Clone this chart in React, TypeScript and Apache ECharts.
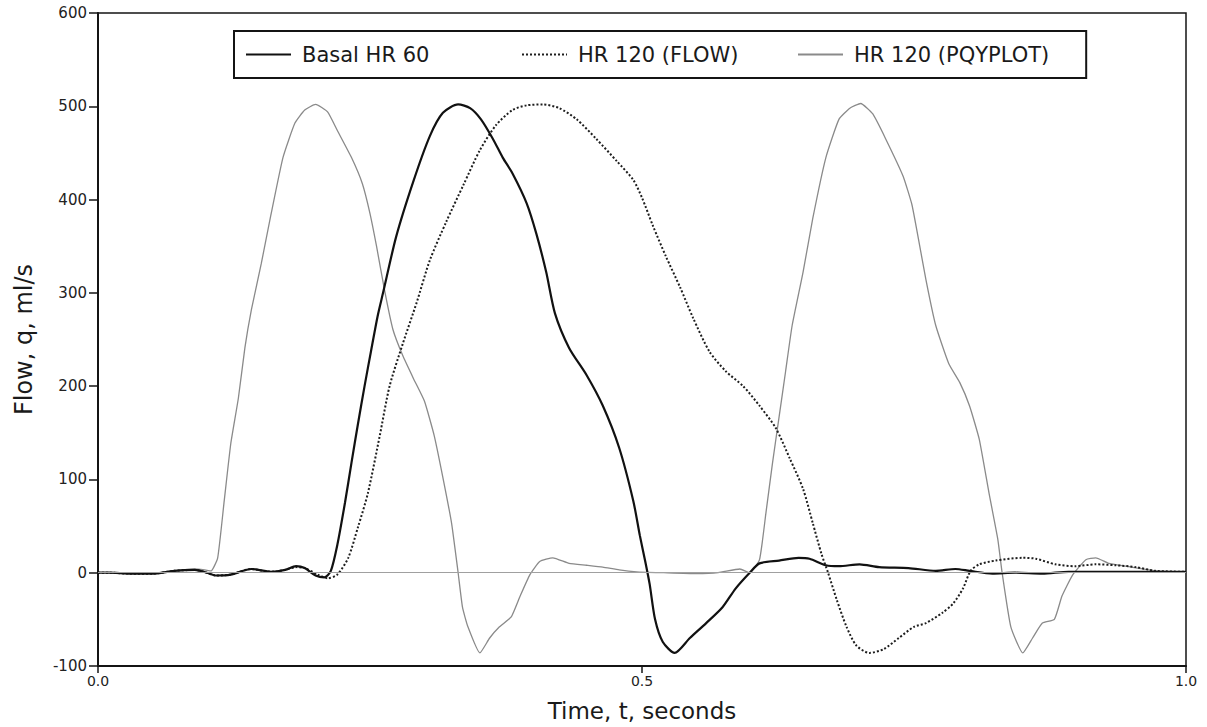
import React, { useEffect, useRef } from "react";
import * as echarts from "echarts";

// Aortic flow waveforms: time (s) vs flow (ml/s)
const seriesNames = ["Basal HR 60", "HR 120 (FLOW)", "HR 120 (PQYPLOT)"];

const basalHr60: [number, number][] = [
  [0.0, 0], [0.01, 0], [0.03, -1], [0.05, -1], [0.07, 2], [0.089, 3], [0.1, 0],
  [0.108, -3], [0.122, -2], [0.141, 4], [0.159, 1], [0.172, 3], [0.182, 7],
  [0.19, 5], [0.2, -3], [0.208, -5], [0.214, 2], [0.22, 30], [0.227, 75],
  [0.233, 118], [0.239, 160], [0.245, 200], [0.251, 238], [0.257, 275],
  [0.262, 300], [0.274, 360], [0.29, 420], [0.305, 468], [0.317, 493],
  [0.331, 502], [0.342, 498], [0.352, 486], [0.363, 465], [0.372, 445],
  [0.381, 428], [0.394, 396], [0.403, 363], [0.412, 322], [0.42, 278],
  [0.433, 241], [0.449, 212], [0.464, 179], [0.479, 134], [0.492, 77],
  [0.498, 40], [0.503, 12], [0.507, -12], [0.512, -50], [0.519, -74],
  [0.53, -86], [0.544, -70], [0.559, -54], [0.574, -37], [0.586, -17],
  [0.599, 0], [0.608, 10], [0.626, 13], [0.644, 16], [0.654, 15], [0.669, 8],
  [0.681, 7], [0.7, 9], [0.718, 6], [0.745, 5], [0.77, 2], [0.788, 4],
  [0.801, 2], [0.822, -1], [0.843, 0], [0.868, -1], [0.892, 1], [0.917, 1],
  [0.945, 1], [0.975, 1], [1.0, 1],
];

const hr120Flow: [number, number][] = [
  [0.0, 0], [0.01, 0], [0.03, -1], [0.05, -1], [0.07, 2], [0.089, 3], [0.1, 0],
  [0.108, -3], [0.122, -2], [0.141, 4], [0.159, 1], [0.172, 3], [0.182, 6],
  [0.19, 5], [0.202, -2], [0.211, -6], [0.22, -2], [0.23, 16], [0.239, 49],
  [0.248, 85], [0.259, 147], [0.268, 200], [0.28, 245], [0.293, 290],
  [0.305, 335], [0.32, 376], [0.336, 416], [0.351, 453], [0.366, 480],
  [0.381, 496], [0.394, 501], [0.409, 502], [0.424, 498], [0.44, 486],
  [0.458, 465], [0.477, 441], [0.492, 421], [0.5, 402], [0.51, 372],
  [0.522, 339], [0.535, 306], [0.547, 273], [0.562, 237], [0.577, 216],
  [0.593, 200], [0.608, 179], [0.623, 155], [0.636, 122], [0.648, 90],
  [0.657, 53], [0.665, 20], [0.671, 0], [0.679, -29], [0.688, -58],
  [0.697, -78], [0.709, -86], [0.722, -82], [0.736, -70], [0.75, -58],
  [0.761, -54], [0.776, -43], [0.786, -33], [0.795, -17], [0.802, 2],
  [0.81, 9], [0.825, 13], [0.85, 16], [0.862, 15], [0.88, 9], [0.898, 7],
  [0.917, 9], [0.935, 8], [0.954, 6], [0.972, 2], [1.0, 1],
];

const hr120Pqyplot: [number, number][] = [
  [0.0, 0], [0.01, 0], [0.03, -1], [0.05, -1], [0.07, 2], [0.089, 4],
  [0.098, 3], [0.104, 2], [0.11, 16], [0.116, 77], [0.122, 138], [0.129, 187],
  [0.135, 241], [0.141, 282], [0.15, 331], [0.159, 384], [0.17, 445],
  [0.181, 482], [0.19, 496], [0.2, 502], [0.211, 494], [0.22, 474],
  [0.233, 445], [0.243, 417], [0.25, 385], [0.256, 350], [0.2635, 302],
  [0.271, 261], [0.28, 233], [0.29, 208], [0.3, 184], [0.309, 147],
  [0.317, 102], [0.325, 53], [0.331, 0], [0.335, -37], [0.34, -58],
  [0.351, -86], [0.36, -70], [0.369, -58], [0.38, -47], [0.388, -25],
  [0.397, -2], [0.406, 12], [0.418, 16], [0.433, 10], [0.449, 8], [0.464, 6],
  [0.479, 3], [0.495, 1], [0.52, 0], [0.55, -1], [0.57, 0], [0.59, 4],
  [0.599, 0], [0.608, 14], [0.614, 65], [0.62, 118], [0.626, 167],
  [0.632, 216], [0.638, 265], [0.648, 322], [0.657, 380], [0.669, 445],
  [0.681, 486], [0.691, 498], [0.701, 503], [0.712, 492], [0.724, 465],
  [0.74, 425], [0.748, 395], [0.752, 371], [0.761, 314], [0.77, 265],
  [0.782, 224], [0.792, 204], [0.801, 179], [0.81, 143], [0.819, 85],
  [0.827, 36], [0.831, 0], [0.839, -58], [0.85, -86], [0.859, -70],
  [0.868, -54], [0.879, -50], [0.886, -25], [0.896, -2], [0.908, 14],
  [0.917, 16], [0.929, 10], [0.945, 7], [0.96, 4], [0.972, 2], [1.0, 1],
];

const FONT = "DejaVu Sans";
const INK = "#141414";

export default function App() {
  const ref = useRef<HTMLDivElement | null>(null);

  useEffect(() => {
    if (!ref.current) return;
    const chart = echarts.init(ref.current, undefined, { renderer: "svg" });

    chart.setOption({
      animation: false,
      backgroundColor: "#ffffff",
      grid: {
        left: 98,
        right: 21,
        top: 13,
        bottom: 60,
        show: true,
        borderColor: INK,
        borderWidth: 1.5,
        backgroundColor: "transparent",
      },
      legend: {
        data: seriesNames,
        left: 234,
        top: 31,
        orient: "horizontal",
        padding: [11, 37, 11, 11],
        itemGap: 25,
        itemWidth: 45,
        itemHeight: 14,
        borderColor: INK,
        borderWidth: 2,
        selectedMode: false,
        // line samples only, no marker dot
        itemStyle: { opacity: 0 },
        textStyle: {
          fontFamily: FONT,
          fontSize: 21,
          color: "#1a1a1a",
          width: 194,
          lineHeight: 25,
          padding: [0, 0, 0, 6],
        },
      },
      xAxis: {
        type: "value",
        min: 0,
        max: 1,
        interval: 0.5,
        name: "Time, t, seconds",
        nameLocation: "middle",
        nameGap: 33,
        nameTextStyle: { fontFamily: FONT, fontSize: 23, color: "#1a1a1a" },
        axisLine: { show: true, onZero: false, lineStyle: { color: INK, width: 2 } },
        axisTick: { show: true, length: 7, lineStyle: { color: INK, width: 1.5 } },
        axisLabel: {
          fontFamily: FONT,
          fontSize: 14,
          color: "#222",
          margin: 8,
          formatter: (v: number) => v.toFixed(1),
        },
        splitLine: { show: false },
      },
      yAxis: {
        type: "value",
        min: -100,
        max: 600,
        interval: 100,
        name: "Flow, q, ml/s",
        nameLocation: "middle",
        nameGap: 62,
        nameRotate: 90,
        nameTextStyle: { fontFamily: FONT, fontSize: 24, color: "#1a1a1a" },
        axisLine: { show: true, onZero: false, lineStyle: { color: INK, width: 2 } },
        axisTick: { show: true, length: 9, lineStyle: { color: INK, width: 1.5 } },
        axisLabel: { fontFamily: FONT, fontSize: 15, color: "#222", margin: 11 },
        splitLine: { show: false },
      },
      series: [
        {
          name: seriesNames[2],
          type: "line",
          data: hr120Pqyplot,
          symbol: "none",
          smooth: 0.15,
          z: 2,
          lineStyle: { color: "#8a8a8a", width: 1.3, type: "solid" },
          itemStyle: { color: "#8a8a8a" },
          markLine: {
            silent: true,
            symbol: ["none", "none"],
            label: { show: false },
            lineStyle: { color: "#a0a0a0", width: 1.2, type: "solid" },
            data: [{ yAxis: 0 }],
          },
        },
        {
          name: seriesNames[1],
          type: "line",
          data: hr120Flow,
          symbol: "none",
          smooth: 0.25,
          z: 3,
          lineStyle: { color: "#1e1e1e", width: 2, type: [2, 2] },
          itemStyle: { color: "#1e1e1e" },
        },
        {
          name: seriesNames[0],
          type: "line",
          data: basalHr60,
          symbol: "none",
          smooth: 0.25,
          z: 4,
          lineStyle: { color: "#111111", width: 2.2, type: "solid" },
          itemStyle: { color: "#111111" },
        },
      ],
    });

    return () => chart.dispose();
  }, []);

  return (
    <div
      ref={ref}
      style={{ position: "absolute", left: 0, top: 0, width: 1207, height: 727 }}
    />
  );
}
